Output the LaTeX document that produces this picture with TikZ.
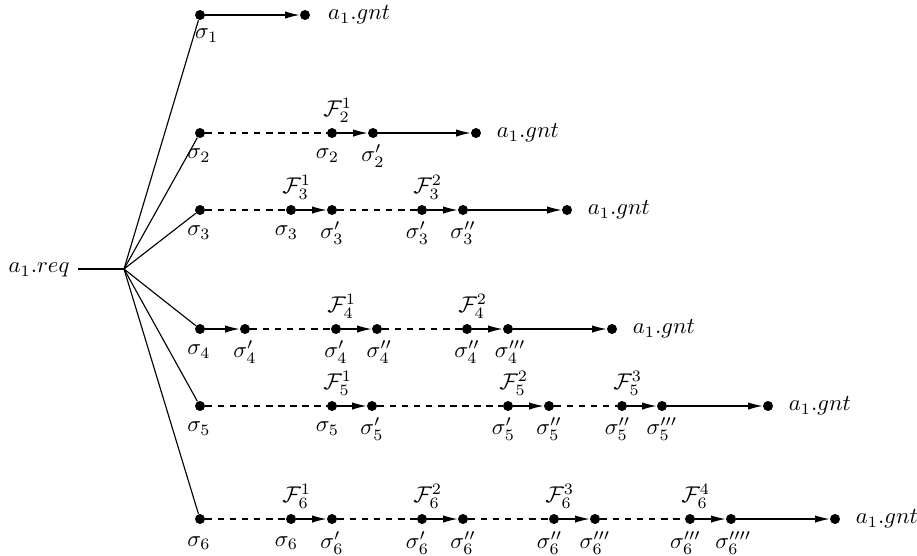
\documentclass[tikz,border=0pt]{standalone}
\usetikzlibrary{arrows.meta}
\begin{document}
\begin{tikzpicture}[x=0.44pt,y=-0.44pt,
  dot/.style={circle,fill,inner sep=0pt,minimum size=4.4pt},
  arr/.style={line width=0.5pt,-{Latex[length=6.3pt,width=3.2pt]}},
  dsh/.style={line width=0.5pt,dash pattern=on 3pt off 2.3pt},
  ln/.style={line width=0.5pt},
  lb/.style={inner sep=0pt},
  gnt/.style={anchor=west,inner sep=0pt}]
\useasboundingbox (0,0) rectangle (917,555);
% fan
\node[anchor=east,inner sep=0pt] (req) at (70,270) {$a_1.req$};
\coordinate (rs) at (78,269);
\coordinate (fan) at (124,269);
% row 1
\node[dot] (s1) at (200,15) {};
\node[dot] (g1) at (305,15) {};
% row 2
\node[dot] (s2) at (200,133) {};
\node[dot] (r2a) at (332,133) {};
\node[dot] (r2b) at (373,133) {};
\node[dot] (g2) at (476,133) {};
% row 3
\node[dot] (s3) at (200,210) {};
\node[dot] (r3a) at (291,210) {};
\node[dot] (r3b) at (332,210) {};
\node[dot] (r3c) at (422,210) {};
\node[dot] (r3d) at (463,210) {};
\node[dot] (g3) at (567,210) {};
% row 4
\node[dot] (s4) at (200,329) {};
\node[dot] (r4a) at (245,329) {};
\node[dot] (r4b) at (336,329) {};
\node[dot] (r4c) at (377,329) {};
\node[dot] (r4d) at (467,329) {};
\node[dot] (r4e) at (508,329) {};
\node[dot] (g4) at (612,329) {};
% row 5
\node[dot] (s5) at (200,406) {};
\node[dot] (r5a) at (332,406) {};
\node[dot] (r5b) at (372,406) {};
\node[dot] (r5c) at (508,406) {};
\node[dot] (r5d) at (549,406) {};
\node[dot] (r5e) at (622,406) {};
\node[dot] (r5f) at (662,406) {};
\node[dot] (g5) at (768,406) {};
% row 6
\node[dot] (s6) at (200,519) {};
\node[dot] (r6a) at (291,519) {};
\node[dot] (r6b) at (332,519) {};
\node[dot] (r6c) at (422,519) {};
\node[dot] (r6d) at (463,519) {};
\node[dot] (r6e) at (554,519) {};
\node[dot] (r6f) at (595,519) {};
\node[dot] (r6g) at (690,519) {};
\node[dot] (r6h) at (731,519) {};
\node[dot] (g6) at (835,519) {};
% fan lines
\draw[ln] (rs) -- (fan);
\foreach \s in {s1,s2,s3,s4,s5,s6} \draw[ln] (fan) -- (\s);
% row lines
\draw[arr] (s1) -- (g1);
\draw[dsh] (s2) -- (r2a); \draw[arr] (r2a) -- (r2b); \draw[arr] (r2b) -- (g2);
\draw[dsh] (s3) -- (r3a); \draw[arr] (r3a) -- (r3b); \draw[dsh] (r3b) -- (r3c); \draw[arr] (r3c) -- (r3d); \draw[arr] (r3d) -- (g3);
\draw[arr] (s4) -- (r4a); \draw[dsh] (r4a) -- (r4b); \draw[arr] (r4b) -- (r4c); \draw[dsh] (r4c) -- (r4d); \draw[arr] (r4d) -- (r4e); \draw[arr] (r4e) -- (g4);
\draw[dsh] (s5) -- (r5a); \draw[arr] (r5a) -- (r5b); \draw[dsh] (r5b) -- (r5c); \draw[arr] (r5c) -- (r5d); \draw[dsh] (r5d) -- (r5e); \draw[arr] (r5e) -- (r5f); \draw[arr] (r5f) -- (g5);
\draw[dsh] (s6) -- (r6a); \draw[arr] (r6a) -- (r6b); \draw[dsh] (r6b) -- (r6c); \draw[arr] (r6c) -- (r6d); \draw[dsh] (r6d) -- (r6e); \draw[arr] (r6e) -- (r6f); \draw[dsh] (r6f) -- (r6g); \draw[arr] (r6g) -- (r6h); \draw[arr] (r6h) -- (g6);
% gnt labels
\node[gnt] (t1) at ([xshift=10pt]g1) {$a_1.gnt$};
\node[gnt] (t2) at ([xshift=9pt]g2) {$a_1.gnt$};
\node[gnt] (t3) at ([xshift=9pt]g3) {$a_1.gnt$};
\node[gnt] (t4) at ([xshift=9pt]g4) {$a_1.gnt$};
\node[gnt] (t5) at ([xshift=9pt]g5) {$a_1.gnt$};
\node[gnt] (t6) at ([xshift=9pt]g6) {$a_1.gnt$};
% sigma labels
\node[lb] (ls1) at ([xshift=3pt,yshift=-9pt]s1) {$\sigma_1$};
\node[lb] (ls2) at ([xshift=-0.5pt,yshift=-10pt]s2) {$\sigma_2$};
\node[lb] (l2a) at ([xshift=-2pt,yshift=-10pt]r2a) {$\sigma_2$};
\node[lb] (l2b) at ([yshift=-10pt]r2b) {$\sigma'_2$};
\node[lb] (ls3) at ([xshift=-0.5pt,yshift=-10pt]s3) {$\sigma_3$};
\node[lb] (l3a) at ([xshift=-2pt,yshift=-10pt]r3a) {$\sigma_3$};
\node[lb] (l3b) at ([yshift=-10pt]r3b) {$\sigma'_3$};
\node[lb] (l3c) at ([xshift=-2pt,yshift=-10pt]r3c) {$\sigma'_3$};
\node[lb] (l3d) at ([yshift=-10pt]r3d) {$\sigma''_3$};
\node[lb] (ls4) at ([xshift=-0.5pt,yshift=-10pt]s4) {$\sigma_4$};
\node[lb] (l4a) at ([yshift=-10pt]r4a) {$\sigma'_4$};
\node[lb] (l4b) at ([yshift=-10pt]r4b) {$\sigma'_4$};
\node[lb] (l4c) at ([xshift=1pt,yshift=-10pt]r4c) {$\sigma''_4$};
\node[lb] (l4d) at ([yshift=-10pt]r4d) {$\sigma''_4$};
\node[lb] (l4e) at ([xshift=1pt,yshift=-10pt]r4e) {$\sigma'''_4$};
\node[lb] (ls5) at ([xshift=-0.5pt,yshift=-10pt]s5) {$\sigma_5$};
\node[lb] (l5a) at ([xshift=-2pt,yshift=-10pt]r5a) {$\sigma_5$};
\node[lb] (l5b) at ([yshift=-10pt]r5b) {$\sigma'_5$};
\node[lb] (l5c) at ([xshift=-2pt,yshift=-10pt]r5c) {$\sigma'_5$};
\node[lb] (l5d) at ([yshift=-10pt]r5d) {$\sigma''_5$};
\node[lb] (l5e) at ([xshift=-2pt,yshift=-10pt]r5e) {$\sigma''_5$};
\node[lb] (l5f) at ([yshift=-10pt]r5f) {$\sigma'''_5$};
\node[lb] (ls6) at ([xshift=-0.5pt,yshift=-10.5pt]s6) {$\sigma_6$};
\node[lb] (l6a) at ([xshift=-2pt,yshift=-10.5pt]r6a) {$\sigma_6$};
\node[lb] (l6b) at ([yshift=-10.5pt]r6b) {$\sigma'_6$};
\node[lb] (l6c) at ([xshift=-2pt,yshift=-10.5pt]r6c) {$\sigma'_6$};
\node[lb] (l6d) at ([yshift=-10.5pt]r6d) {$\sigma''_6$};
\node[lb] (l6e) at ([xshift=-2pt,yshift=-10.5pt]r6e) {$\sigma''_6$};
\node[lb] (l6f) at ([yshift=-10.5pt]r6f) {$\sigma'''_6$};
\node[lb] (l6g) at ([xshift=-2pt,yshift=-10.5pt]r6g) {$\sigma'''_6$};
\node[lb] (l6h) at ([xshift=1pt,yshift=-10.5pt]r6h) {$\sigma''''_6$};
% F labels
\node[lb] (f21) at ([xshift=2.5pt,yshift=10pt]r2a) {$\mathcal{F}_2^1$};
\node[lb] (f31) at ([xshift=2.5pt,yshift=10pt]r3a) {$\mathcal{F}_3^1$};
\node[lb] (f32) at ([xshift=2.5pt,yshift=10pt]r3c) {$\mathcal{F}_3^2$};
\node[lb] (f41) at ([xshift=2.5pt,yshift=10pt]r4b) {$\mathcal{F}_4^1$};
\node[lb] (f42) at ([xshift=2.5pt,yshift=10pt]r4d) {$\mathcal{F}_4^2$};
\node[lb] (f51) at ([xshift=2.5pt,yshift=10pt]r5a) {$\mathcal{F}_5^1$};
\node[lb] (f52) at ([xshift=2.5pt,yshift=10pt]r5c) {$\mathcal{F}_5^2$};
\node[lb] (f53) at ([xshift=2.5pt,yshift=10pt]r5e) {$\mathcal{F}_5^3$};
\node[lb] (f61) at ([xshift=2.5pt,yshift=10pt]r6a) {$\mathcal{F}_6^1$};
\node[lb] (f62) at ([xshift=2.5pt,yshift=10pt]r6c) {$\mathcal{F}_6^2$};
\node[lb] (f63) at ([xshift=2.5pt,yshift=10pt]r6e) {$\mathcal{F}_6^3$};
\node[lb] (f64) at ([xshift=2.5pt,yshift=10pt]r6g) {$\mathcal{F}_6^4$};
\end{tikzpicture}
\end{document}
